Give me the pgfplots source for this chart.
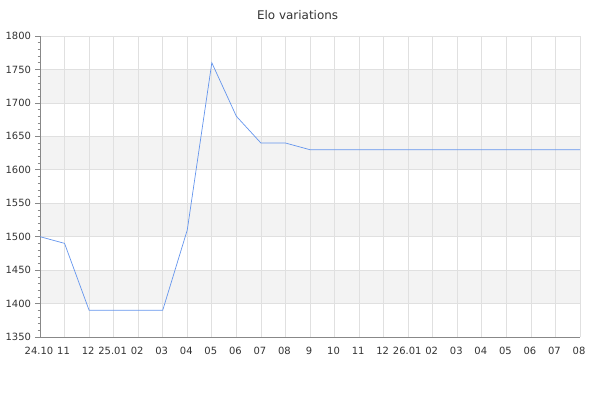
\documentclass[border=0pt]{standalone}
\usepackage{fontspec}
\setmainfont{DejaVu Sans}
\usepackage{pgfplots}
\pgfplotsset{compat=1.18}
\definecolor{eloline}{HTML}{6495ED}
\definecolor{gridgray}{HTML}{E0E0E0}
\definecolor{bandgray}{HTML}{F3F3F3}
\definecolor{axisgray}{HTML}{888888}
\definecolor{textgray}{HTML}{333333}
\begin{document}
\begin{tikzpicture}
\path (0,0) rectangle (600bp,400bp);
\begin{axis}[
    set layers,
    at={(40bp,63bp)}, anchor=south west,
    scale only axis,
    width=540bp, height=301bp,
    xmin=0, xmax=22, ymin=1350, ymax=1800,
    xtick={0,...,22},
    xticklabels={24.10,11,12,25.01,02,03,04,05,06,07,08,9,10,11,12,26.01,02,03,04,05,06,07,08},
    ytick={1350,1400,...,1800},
    minor y tick num=4,
    axis x line*=bottom, axis y line*=left,
    axis line style={axisgray, line width=0.8pt, -},
    grid=major,
    major grid style={gridgray, line width=0.7pt},
    x tick style={draw=none},
    y tick style={axisgray, line width=0.6pt},
    tick align=outside,
    major tick length=5bp, minor tick length=2.5bp,
    tick label style={font=\fontsize{10}{12}\selectfont, text=textgray},
    xticklabel style={yshift=-1bp, xshift=-1bp, text height=7.5bp, text depth=0bp},
    yticklabel style={xshift=-0.5bp},
    /pgf/number format/assume math mode=true,
    /pgf/number format/1000 sep={},
    title={Elo variations},
    title style={font=\fontsize{12}{14}\selectfont, text=textgray, at={(0.477,1)}, yshift=7bp},
    clip=false,
]
\pgfonlayer{axis background}
\fill[bandgray] (axis cs:0,1400) rectangle (axis cs:22,1450);
\fill[bandgray] (axis cs:0,1500) rectangle (axis cs:22,1550);
\fill[bandgray] (axis cs:0,1600) rectangle (axis cs:22,1650);
\fill[bandgray] (axis cs:0,1700) rectangle (axis cs:22,1750);
\endpgfonlayer
\addplot[eloline, line width=0.7pt, mark=none] coordinates {
  (0,1500) (1,1490) (2,1390) (3,1390) (4,1390) (5,1390) (6,1510)
  (7,1760) (8,1680) (9,1640) (10,1640) (11,1630) (12,1630) (13,1630)
  (14,1630) (15,1630) (16,1630) (17,1630) (18,1630) (19,1630) (20,1630)
  (21,1630) (22,1630)
};
\end{axis}
\end{tikzpicture}
\end{document}
